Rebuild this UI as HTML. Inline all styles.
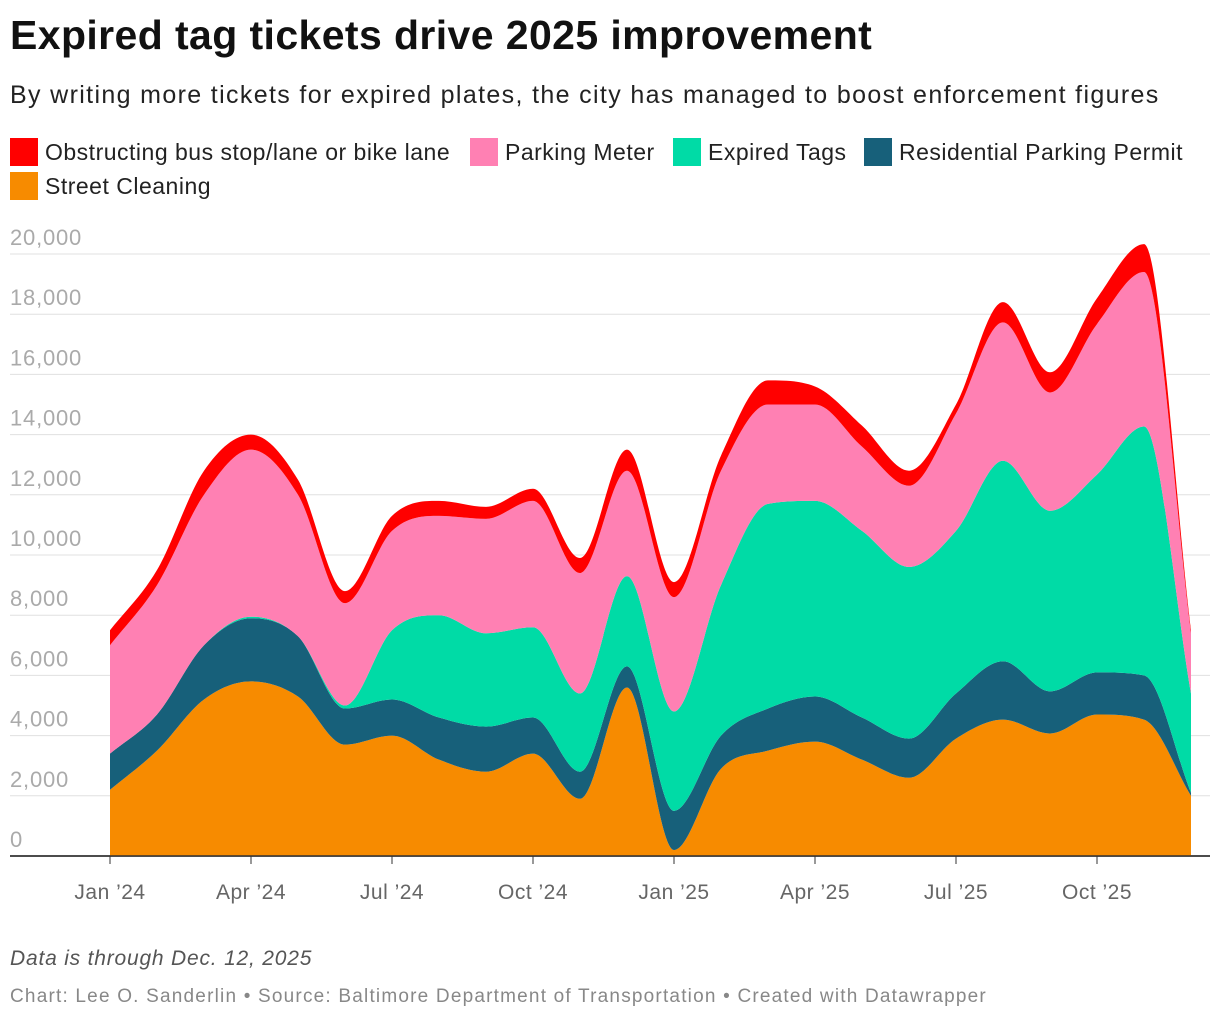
<!DOCTYPE html>
<html><head><meta charset="utf-8">
<style>
body{margin:0;background:#fff;font-family:"Liberation Sans",Arial,sans-serif;}
#wrap{position:relative;width:1220px;height:1022px;overflow:hidden}
.t{position:absolute;left:10px;white-space:nowrap}
</style></head><body>
<div id="wrap">
<div class="t" style="top:12px;font-size:41px;letter-spacing:0.4px;font-weight:bold;color:#111">Expired tag tickets drive 2025 improvement</div>
<div class="t" style="top:81px;font-size:25px;letter-spacing:1.35px;color:#222">By writing more tickets for expired plates, the city has managed to boost enforcement figures</div>
<svg id="chart" width="1220" height="1022" style="position:absolute;left:0;top:0"></svg>
<div class="t" style="top:947px;font-size:21px;letter-spacing:0.8px;font-style:italic;color:#555">Data is through Dec. 12, 2025</div>
<div class="t" style="top:986px;font-size:19px;letter-spacing:1.2px;color:#888">Chart: Lee O. Sanderlin • Source: Baltimore Department of Transportation • Created with Datawrapper</div>
</div>
<script>
const months=["Jan 24","Feb 24","Mar 24","Apr 24","May 24","Jun 24","Jul 24","Aug 24","Sep 24","Oct 24","Nov 24","Dec 24","Jan 25","Feb 25","Mar 25","Apr 25","May 25","Jun 25","Jul 25","Aug 25","Sep 25","Oct 25","Nov 25","Dec 25"];
const streetCleaning=[2200,3500,5200,5800,5300,3700,4000,3200,2800,3400,1900,5600,200,2900,3500,3800,3200,2600,3900,4530,4070,4700,4530,2000];
const residentialPermit=[1200,1200,1800,2100,2000,1200,1200,1400,1500,1200,900,700,1300,1100,1400,1500,1400,1300,1500,1940,1400,1400,1470,100];
const expiredTags=[0,0,0,50,0,100,2300,3400,3100,3000,2600,3000,3300,5000,6800,6500,6200,5700,5400,6660,6000,6570,8270,3300];
const parkingMeter=[3600,4300,5000,5550,4700,3400,3300,3300,3800,4200,4000,3500,3800,3800,3300,3200,2800,2700,3900,4600,3930,5000,5130,2000];
const obstructing=[500,500,800,500,500,400,500,500,400,400,500,700,500,500,800,600,700,500,300,670,670,860,930,100];
const seriesNames=["Street Cleaning","Residential Parking Permit","Expired Tags","Parking Meter","Obstructing bus stop/lane or bike lane"];
const seriesColors=["#f78b00","#17607a","#00dba6","#ff80b3","#ff0000"];
const yTicks=[0,2000,4000,6000,8000,10000,12000,14000,16000,18000,20000];
const xTickIdx=[0,3,6,9,12,15,18,21];
const xTickLabels=["Jan ’24","Apr ’24","Jul ’24","Oct ’24","Jan ’25","Apr ’25","Jul ’25","Oct ’25"];
const legendOrder=[4,3,2,1,0];

const svg=document.getElementById('chart');const NS="http://www.w3.org/2000/svg";
function mk(t,a,p){const e=document.createElementNS(NS,t);for(const k in a)e.setAttribute(k,a[k]);(p||svg).appendChild(e);return e;}
const x=i=>110+i*(1191-110)/23;
const y=v=>856-v*(602/20000);

yTicks.forEach(v=>{
 const l=mk('line',{x1:10,x2:1210,y1:y(v),y2:y(v),stroke:v===0?'#333':'#e0e0e0','stroke-width':v===0?1.5:1});
 
 
 const t=mk('text',{x:10,y:y(v)-9,'font-size':22,'letter-spacing':0.8,fill:'#aaa','font-family':'Liberation Sans, sans-serif'});
 t.textContent=v.toLocaleString('en-US');
 
 
});

function monoPts(px,py){const n=px.length,d=[],m=[];
 for(let i=0;i<n-1;i++)d.push((py[i+1]-py[i])/(px[i+1]-px[i]));
 for(let i=0;i<n;i++){if(i===0)m.push(d[0]);else if(i===n-1)m.push(d[n-2]);else m.push(d[i-1]*d[i]<=0?0:(d[i-1]+d[i])/2);}
 for(let i=0;i<n-1;i++){if(d[i]===0){m[i]=0;m[i+1]=0;continue;}const a=m[i]/d[i],b=m[i+1]/d[i],s=a*a+b*b;if(s>9){const t=3/Math.sqrt(s);m[i]=t*a*d[i];m[i+1]=t*b*d[i];}}
 return m;}
function curve(px,py,rev){
 const m=monoPts(px,py);let s='';const n=px.length;
 if(!rev){s+=`L${px[0]},${py[0]}`;for(let i=0;i<n-1;i++){const h=(px[i+1]-px[i])/3;s+=`C${px[i]+h},${py[i]+m[i]*h} ${px[i+1]-h},${py[i+1]-m[i+1]*h} ${px[i+1]},${py[i+1]}`;}}
 else{s+=`L${px[n-1]},${py[n-1]}`;for(let i=n-1;i>0;i--){const h=(px[i]-px[i-1])/3;s+=`C${px[i]-h},${py[i]-m[i]*h} ${px[i-1]+h},${py[i-1]+m[i-1]*h} ${px[i-1]},${py[i-1]}`;}}
 return s;}
const series=[streetCleaning,residentialPermit,expiredTags,parkingMeter,obstructing];
let base=months.map(()=>0);
const px=months.map((_,i)=>x(i));
series.forEach((s,k)=>{
 const top=base.map((b,i)=>b+s[i]);
 const d='M'+curve(px,top.map(y),false).slice(1)+curve(px,base.map(y),true)+'Z';
 const p=mk('path',{d:d,fill:seriesColors[k]});
 
 
 base=top;
});
mk('line',{x1:10,x2:1210,y1:856,y2:856,stroke:'#333','stroke-width':1.5});
xTickIdx.forEach((idx,j)=>{
 mk('line',{x1:x(idx),x2:x(idx),y1:856,y2:864,stroke:'#333'});
 const t=mk('text',{x:x(idx),y:899,'font-size':21,'letter-spacing':0.5,fill:'#666','text-anchor':'middle','font-family':'Liberation Sans, sans-serif'});
 t.textContent=xTickLabels[j];
 
 
});
const wrap=document.getElementById('wrap');
const legPos=[[10,138],[470,138],[673,138],[864,138],[10,172]];
legendOrder.forEach((k,j)=>{
 const e=document.createElement('div');
 e.style.cssText=`position:absolute;left:${legPos[j][0]}px;top:${legPos[j][1]}px;font-size:23px;letter-spacing:0.5px;color:#222;white-space:nowrap;display:flex;align-items:center`;
 e.innerHTML=`<span style="display:inline-block;width:28px;height:28px;background:${seriesColors[k]};margin-right:7px"></span>${seriesNames[k]}`;
 
 
 wrap.appendChild(e);
});
</script>
</body></html>
